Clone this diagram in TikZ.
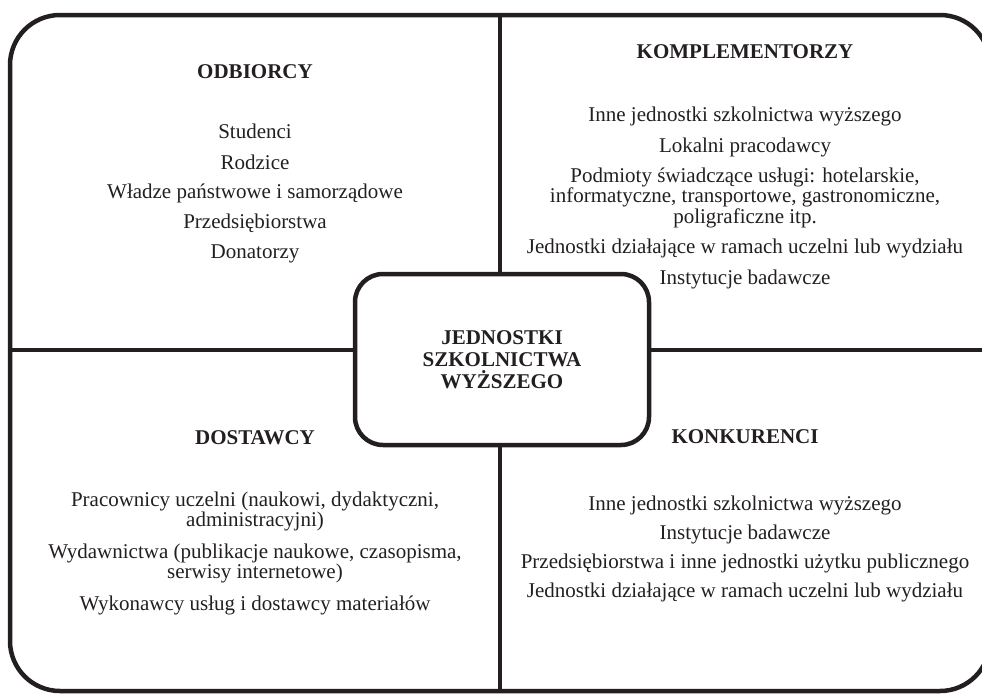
\documentclass[tikz,border=0pt]{standalone}
\usepackage{fontspec}
\setmainfont{Liberation Serif}
\definecolor{ink}{RGB}{35,31,32}

\begin{document}
\begin{tikzpicture}[x=1pt,y=-1pt,
		frame/.style={draw=ink,line width=4.5pt,rounded corners=50pt},
		divider/.style={draw=ink,line width=4.5pt},
		hub/.style={draw=ink,fill=white,line width=4.5pt,rounded corners=28pt,minimum width=294pt,minimum height=171pt,align=center,text=ink,font=\fontsize{21}{22}\selectfont\bfseries},
		head/.style={text=ink,font=\fontsize{21}{22}\selectfont\bfseries},
		entry/.style={text=ink,align=center,inner sep=0pt,font=\fontsize{21}{20.5}\selectfont}]
		\useasboundingbox (0,0) rectangle (982,694);
		\draw[frame] (10,15) rectangle (990,691);
		\coordinate (top) at (500,15);
		\coordinate (bottom) at (500,691);
		\coordinate (left) at (10,350);
		\coordinate (right) at (990,350);
		\draw[divider] (top) -- (bottom);
		\draw[divider] (left) -- (right);
		\node[hub] (hub) at (502,359.5) {JEDNOSTKI\\SZKOLNICTWA\\WYŻSZEGO};

		\node[head] (odbiorcy) at (255,72) {ODBIORCY};
		\node[entry] (odb-1) at (255,131) {Studenci};
		\node[entry] (odb-2) at (255,162) {Rodzice};
		\node[entry] (odb-3) at (255,193) {Władze państwowe i samorządowe};
		\node[entry] (odb-4) at (255,223) {Przedsiębiorstwa};
		\node[entry] (odb-5) at (255,254) {Donatorzy};

		\node[head] (kompl) at (745,52) {KOMPLEMENTORZY};
		\node[entry] (kom-1) at (745,116) {Inne jednostki szkolnictwa wyższego};
		\node[entry] (kom-2) at (745,147) {Lokalni pracodawcy};
		\node[entry] (kom-3) at (745,197.5) {Podmioty świadczące usługi: hotelarskie,\\informatyczne, transportowe, gastronomiczne,\\poligraficzne itp.};
		\node[entry] (kom-4) at (745,248.5) {Jednostki działające w ramach uczelni lub wydziału};
		\node[entry] (kom-5) at (745,279) {Instytucje badawcze};

		\node[head] (dostawcy) at (255,438) {DOSTAWCY};
		\node[entry] (dos-1) at (255,511.5) {Pracownicy uczelni (naukowi, dydaktyczni,\\administracyjni)};
		\node[entry] (dos-2) at (255,563.5) {Wydawnictwa (publikacje naukowe, czasopisma,\\serwisy internetowe)};
		\node[entry] (dos-3) at (255,605) {Wykonawcy usług i dostawcy materiałów};

		\node[head] (konkur) at (745,437) {KONKURENCI};
		\node[entry] (kon-1) at (745,505) {Inne jednostki szkolnictwa wyższego};
		\node[entry] (kon-2) at (745,534) {Instytucje badawcze};
		\node[entry] (kon-3) at (745,563) {Przedsiębiorstwa i inne jednostki użytku publicznego};
		\node[entry] (kon-4) at (745,592) {Jednostki działające w ramach uczelni lub wydziału};
	\end{tikzpicture}
\end{document}
